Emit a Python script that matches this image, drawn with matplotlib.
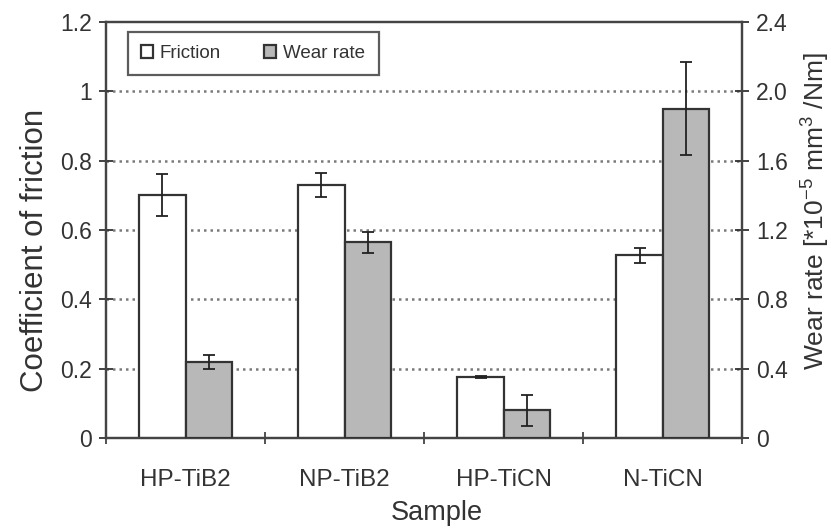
import numpy as np
import matplotlib; matplotlib.use("Agg")
import matplotlib.pyplot as plt

samples = ['HP-TiB2', 'NP-TiB2', 'HP-TiCN', 'N-TiCN']
friction = [0.70, 0.73, 0.177, 0.527]
friction_err = [0.06, 0.035, 0.003, 0.022]
wear = [0.44, 1.13, 0.16, 1.90]
wear_err = [0.04, 0.06, 0.09, 0.27]
left_ticks = [0, 0.2, 0.4, 0.6, 0.8, 1.0, 1.2]
left_labels = ['0', '0.2', '0.4', '0.6', '0.8', '1', '1.2']
right_ticks = [0, 0.4, 0.8, 1.2, 1.6, 2.0, 2.4]
right_labels = ['0', '0.4', '0.8', '1.2', '1.6', '2.0', '2.4']

plt.rcParams.update({'font.family': ['Liberation Sans', 'DejaVu Sans'], 'font.size': 16})
EDGE = '#333333'; GRAY = '#b8b8b8'; TXT = '#333333'
fig = plt.figure(figsize=(8.31, 5.30), dpi=100)
ax = fig.add_axes([0.1276, 0.1736, 0.7654, 0.785])
ax2 = ax.twinx()
x = np.arange(len(samples)); w = 0.29
ax.bar(x - w/2, friction, w, color='white', edgecolor=EDGE, lw=1.6, zorder=3, label='Friction')
ax.errorbar(x - w/2, friction, yerr=friction_err, fmt='none', ecolor='#222222', elinewidth=1.3, capsize=4.5, capthick=1.3, zorder=4)
ax2.bar(x + w/2, wear, w, color=GRAY, edgecolor=EDGE, lw=1.6, zorder=3, label='Wear rate')
ax2.errorbar(x + w/2, wear, yerr=wear_err, fmt='none', ecolor='#222222', elinewidth=1.3, capsize=4.5, capthick=1.3, zorder=4)
for t in left_ticks[1:-1]:
    ax.axhline(t, color='#7a7a7a', ls=(0, (1, 1.6)), lw=1.8, zorder=1)
ax.set_xlim(-0.5, 3.5); ax.set_ylim(0, 1.2); ax2.set_ylim(0, 2.4)
ax.set_yticks(left_ticks); ax.set_yticklabels(left_labels)
ax2.set_yticks(right_ticks); ax2.set_yticklabels(right_labels)
ax.set_xticks(np.arange(-0.5, 4, 1)); ax.set_xticklabels([])
ax.set_xticks(x, minor=True); ax.set_xticklabels(samples, minor=True, fontsize=17.5, color=TXT)
ax.tick_params(axis='x', which='minor', length=0, pad=22)
ax.tick_params(axis='x', which='major', direction='inout', length=8, width=1.3, color='#444444')
ax.tick_params(axis='y', direction='inout', length=10, width=1.3, labelsize=16.5, colors=TXT, pad=5)
ax2.tick_params(axis='y', direction='inout', length=10, width=1.3, labelsize=16.5, colors=TXT, pad=5)
for a in (ax, ax2):
    for s in a.spines.values():
        s.set_linewidth(1.6); s.set_color('#444444')
ax.set_ylabel('Coefficient of friction', fontsize=22.5, color=TXT)
ax.yaxis.set_label_coords(-0.088, 0.45)
ax2.set_ylabel('Wear rate [*10$^{\\mathregular{-5}}$ mm$^{\\mathregular{3}}$ /Nm]', fontsize=19, color=TXT)
ax2.yaxis.set_label_coords(1.088, 0.545)
ax.set_xlabel('Sample', fontsize=19.5, color=TXT)
ax.xaxis.set_label_coords(0.52, -0.148)
h1, l1 = ax.get_legend_handles_labels(); h2, l2 = ax2.get_legend_handles_labels()
leg = ax2.legend(h1 + h2, l1 + l2, ncol=2, loc='upper left', bbox_to_anchor=(0.034, 0.976),
                 fontsize=13.5, labelcolor=TXT,
                 frameon=True, fancybox=False, edgecolor='#333333', handlelength=0.65, handleheight=0.65,
                 handletextpad=0.37, columnspacing=2.3, borderpad=0.7, borderaxespad=0)
leg.get_frame().set_linewidth(1.6)
fig.savefig('out.png', dpi=100)
